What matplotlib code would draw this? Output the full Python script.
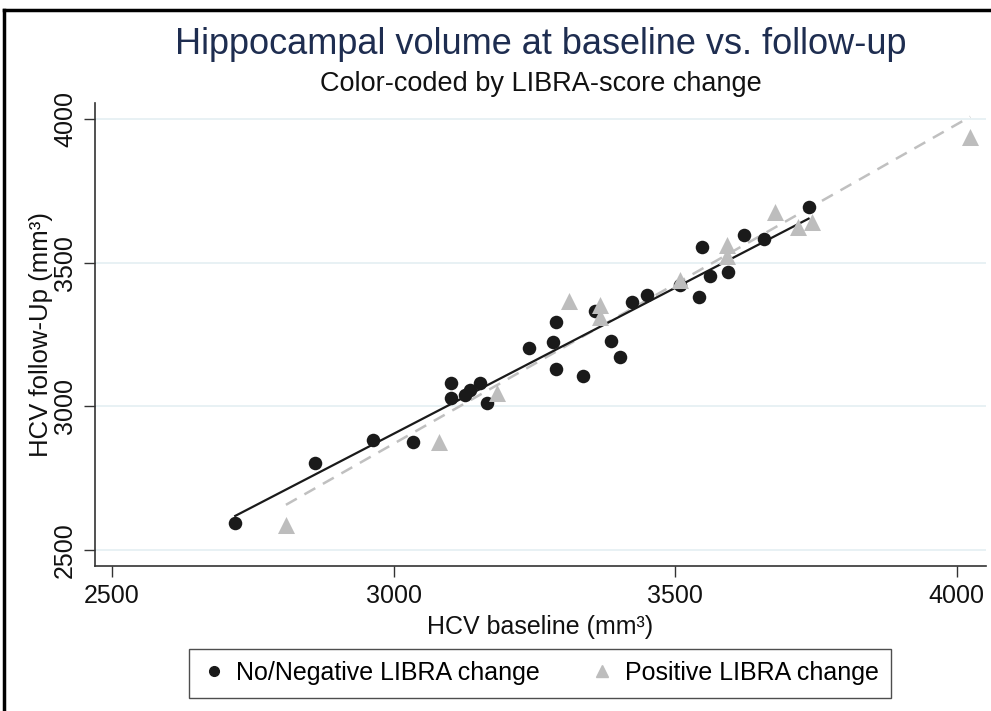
import matplotlib
matplotlib.use("Agg")
import matplotlib.pyplot as plt
from matplotlib.lines import Line2D
import numpy as np

plt.rcParams['font.family'] = ['Liberation Sans', 'DejaVu Sans']

# No/Negative LIBRA change
neg_x = [2719, 2861, 2963, 3034, 3102, 3102, 3127, 3135, 3153, 3166, 3240, 3284, 3289, 3288,
         3337, 3358, 3386, 3402, 3424, 3450, 3508, 3543, 3547, 3562, 3594, 3622, 3657, 3737]
neg_y = [2595, 2804, 2883, 2875, 3081, 3030, 3040, 3057, 3081, 3011, 3205, 3225, 3293, 3130,
         3107, 3334, 3229, 3171, 3365, 3389, 3423, 3380, 3556, 3455, 3469, 3597, 3582, 3694]
# Positive LIBRA change
pos_x = [2809, 3080, 3183, 3311, 3367, 3366, 3509, 3592, 3592, 3678, 3719, 3743, 4024]
pos_y = [2587, 2877, 3046, 3368, 3353, 3311, 3440, 3562, 3524, 3678, 3626, 3643, 3937]

xticks = [2500, 3000, 3500, 4000]
yticks = [2500, 3000, 3500, 4000]

fig = plt.figure(figsize=(9.91, 7.11), dpi=100)
ax = fig.add_axes([95/991, 1-566/711, (986-95)/991, (566-103)/711])

for t in yticks:
    ax.axhline(t, color='#e4eff2', lw=1.2, zorder=0)

# fit lines
def fit(x, y):
    x = np.asarray(x, float); y = np.asarray(y, float)
    b, a = np.polyfit(x, y, 1)
    xs = np.array([x.min(), x.max()])
    return xs, a + b*xs

fx, fy = fit(pos_x, pos_y)
ax.plot(fx, fy, color='#c0c0c0', lw=1.8, ls=(0, (5, 3.5)), zorder=2)
fx, fy = fit(neg_x, neg_y)
ax.plot(fx, fy, color='#1a1a1a', lw=1.6, zorder=3)

ax.scatter(neg_x, neg_y, s=95, marker='o', color='#1a1a1a', zorder=4, linewidths=0)
ax.scatter(pos_x, pos_y, s=150, marker='^', color='#bdbdbd', zorder=5, linewidths=0)

ax.set_xlim(2470, 4052)
ax.set_ylim(2444, 4057)
ax.set_xticks(xticks)
ax.set_yticks(yticks)
ax.set_xticklabels([str(t) for t in xticks], fontsize=18, color='#111111')
ax.set_yticklabels([str(t) for t in yticks], fontsize=18, color='#111111', rotation=90, va='center')
ax.tick_params(axis='both', direction='out', length=8, width=1, color='#333333', pad=5)
for s in ['top', 'right']:
    ax.spines[s].set_visible(False)
for s in ['left', 'bottom']:
    ax.spines[s].set_color('#333333')
    ax.spines[s].set_linewidth(1.2)

ax.set_xlabel('HCV baseline (mm³)', fontsize=18, color='#111111', labelpad=5)
ax.set_ylabel('HCV follow-Up (mm³)', fontsize=18.5, color='#111111', labelpad=0)

fig.text(0.546, 1-45/711, 'Hippocampal volume at baseline vs. follow-up', fontsize=26,
         color='#1e2d50', ha='center', va='center')
fig.text(0.546, 1-84/711, 'Color-coded by LIBRA-score change', fontsize=19.5,
         color='#111111', ha='center', va='center')

handles = [Line2D([], [], marker='o', ls='none', color='#1a1a1a', markersize=7),
           Line2D([], [], marker='^', ls='none', color='#bdbdbd', markersize=8)]
leg = fig.legend(handles, ['No/Negative LIBRA change', 'Positive LIBRA change'],
                 loc='center', bbox_to_anchor=(540/991, 1-673/711), ncol=2,
                 fontsize=18, frameon=True, fancybox=False, edgecolor='#222222',
                 handletextpad=0.4, columnspacing=2.0, handlelength=1.0,
                 borderpad=0.5)
leg.get_frame().set_linewidth(1.0)

# screenshot border (top and left)
fig.add_artist(Line2D([4/991, 1], [1-10/711, 1-10/711], transform=fig.transFigure,
                      color='black', lw=2.5))
fig.add_artist(Line2D([4/991, 4/991], [0, 1-10/711], transform=fig.transFigure,
                      color='black', lw=2.5))

fig.savefig('out.png', dpi=100)
